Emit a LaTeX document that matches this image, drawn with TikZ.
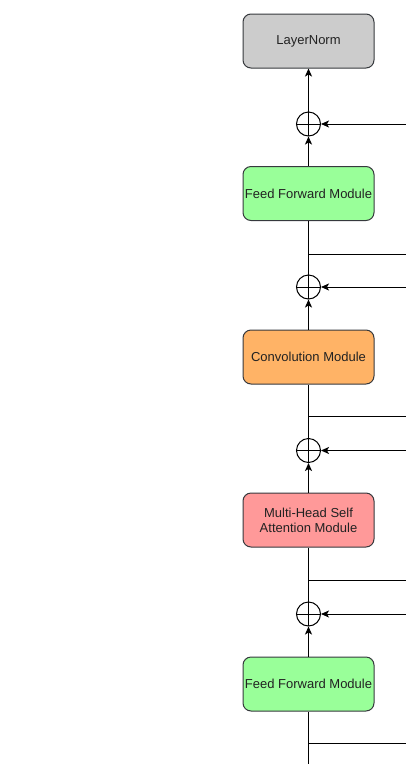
\documentclass[tikz,border=0pt]{standalone}
\usepackage{fontspec}
\setmainfont{Liberation Sans}
\usetikzlibrary{arrows.meta}
\definecolor{edgecol}{HTML}{36393D}
\definecolor{lngray}{HTML}{CCCCCC}
\definecolor{ffgreen}{HTML}{99FF99}
\definecolor{convorange}{HTML}{FFB366}
\definecolor{attred}{HTML}{FF9999}
\definecolor{txtcol}{HTML}{222222}
\begin{document}
\begin{tikzpicture}[x=1pt,y=-1pt,
  block/.style={draw=edgecol, line width=1pt, rounded corners=8pt, minimum width=131pt, minimum height=54pt, align=center, font=\fontsize{13}{15}\selectfont, text=txtcol, inner sep=0pt},
  adder/.style={circle, draw=black, line width=1pt, minimum size=24pt, inner sep=0pt,
    path picture={\draw[line width=0.8pt] (path picture bounding box.north) -- (path picture bounding box.south) (path picture bounding box.west) -- (path picture bounding box.east);}},
  conn/.style={line width=1pt, draw=black},
  arr/.style={conn, -{Stealth[length=8pt,width=7pt,inset=2pt]}}]
\useasboundingbox (0,0) rectangle (406,764);
% nodes
\node[block, fill=lngray] (ln) at (308.5,41) {LayerNorm};
\node[adder] (add1) at (308.5,124) {};
\node[block, fill=ffgreen] (ff1) at (308.5,193.5) {Feed Forward Module};
\node[adder] (add2) at (308.5,287) {};
\node[block, fill=convorange] (conv) at (308.5,357) {Convolution Module};
\node[adder] (add3) at (308.5,450.5) {};
\node[block, fill=attred] (mhsa) at (308.5,520) {Multi-Head Self\\Attention Module};
\node[adder] (add4) at (308.5,614) {};
\node[block, fill=ffgreen] (ff2) at (308.5,684) {Feed Forward Module};
% coordinates
\coordinate (in1) at (406,124);
\coordinate (in2) at (406,287);
\coordinate (in3) at (406,450.5);
\coordinate (in4) at (406,614);
\coordinate (br1) at (308.5,254);  \coordinate (br1e) at (406,254);
\coordinate (br2) at (308.5,416);  \coordinate (br2e) at (406,416);
\coordinate (br3) at (308.5,580);  \coordinate (br3e) at (406,580);
\coordinate (br4) at (308.5,743.5);\coordinate (br4e) at (406,743.5);
\coordinate (bot) at (308.5,764);
% connectors
\draw[arr] (add1) -- (ln);
\draw[arr] (ff1) -- (add1);
\draw[arr] (in1) -- (add1);
\draw[conn] (add2) -- (ff1);
\draw[conn] (br1) -- (br1e);
\draw[arr] (in2) -- (add2);
\draw[arr] (conv) -- (add2);
\draw[conn] (add3) -- (conv);
\draw[conn] (br2) -- (br2e);
\draw[arr] (in3) -- (add3);
\draw[arr] (mhsa) -- (add3);
\draw[conn] (add4) -- (mhsa);
\draw[conn] (br3) -- (br3e);
\draw[arr] (in4) -- (add4);
\draw[arr] (ff2) -- (add4);
\draw[conn] (bot) -- (ff2);
\draw[conn] (br4) -- (br4e);
\end{tikzpicture}
\end{document}
